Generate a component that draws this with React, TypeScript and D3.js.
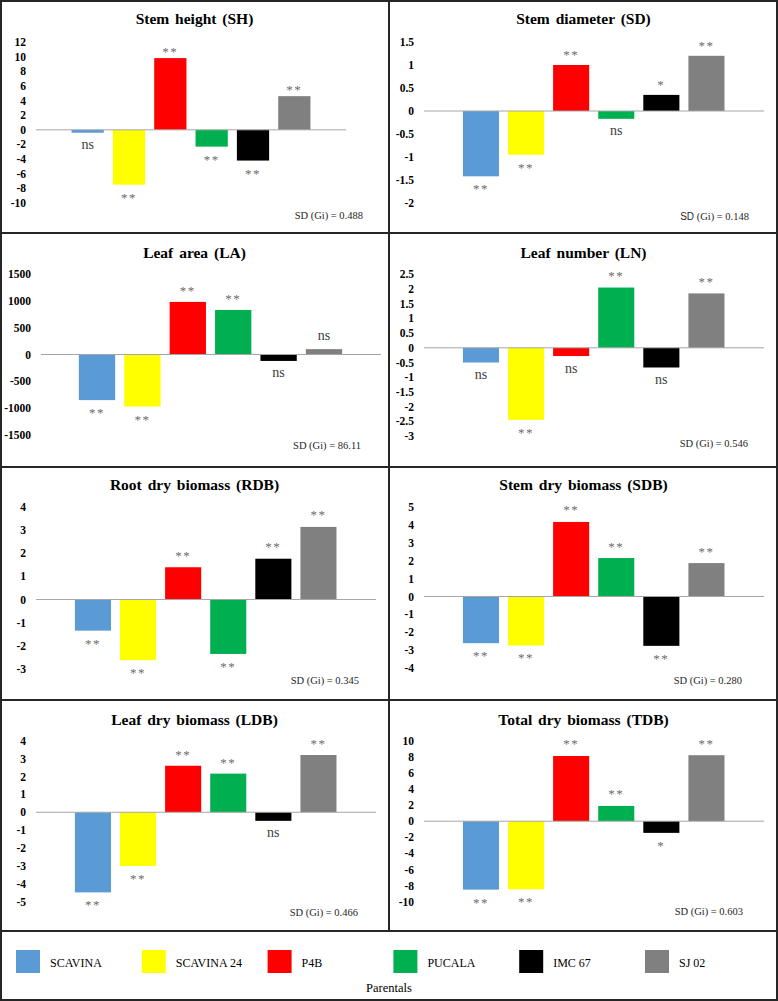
import React from "react";
import * as d3 from "d3";

const CATEGORIES = ["SCAVINA", "SCAVINA 24", "P4B", "PUCALA", "IMC 67", "SJ 02"];
const COLORS = ["#5B9BD5", "#FFFF00", "#FF0000", "#00B050", "#000000", "#808080"];

const TITLES = [
  "Stem height (SH)",
  "Stem diameter (SD)",
  "Leaf area (LA)",
  "Leaf number (LN)",
  "Root dry biomass (RDB)",
  "Stem dry biomass (SDB)",
  "Leaf dry biomass (LDB)",
  "Total dry biomass (TDB)",
];

const SH_VALUES = [-0.4, -7.5, 9.8, -2.3, -4.2, 4.6];
const SD_VALUES = [-1.42, -0.95, 1.0, -0.17, 0.35, 1.2];
const LA_VALUES = [-850, -970, 980, 830, -120, 100];
const LN_VALUES = [-0.5, -2.45, -0.28, 2.05, -0.67, 1.85];
const RDB_VALUES = [-1.35, -2.63, 1.4, -2.36, 1.77, 3.15];
const SDB_VALUES = [-2.6, -2.73, 4.15, 2.14, -2.75, 1.86];
const LDB_VALUES = [-4.48, -3.0, 2.6, 2.16, -0.48, 3.2];
const TDB_VALUES = [-8.5, -8.45, 8.1, 1.9, -1.45, 8.2];

const SH_SIG = ["ns", "**", "**", "**", "**", "**"];
const SD_SIG = ["**", "**", "**", "ns", "*", "**"];
const LA_SIG = ["**", "**", "**", "**", "ns", "ns"];
const LN_SIG = ["ns", "**", "ns", "**", "ns", "**"];
const RDB_SIG = ["**", "**", "**", "**", "**", "**"];
const SDB_SIG = ["**", "**", "**", "**", "**", "**"];
const LDB_SIG = ["**", "**", "**", "**", "ns", "**"];
const TDB_SIG = ["**", "**", "**", "**", "*", "**"];

const SH_TICKS = [12, 10, 8, 6, 4, 2, 0, -2, -4, -6, -8, -10];
const SD_TICKS = [1.5, 1, 0.5, 0, -0.5, -1, -1.5, -2];
const LA_TICKS = [1500, 1000, 500, 0, -500, -1000, -1500];
const LN_TICKS = [2.5, 2, 1.5, 1, 0.5, 0, -0.5, -1, -1.5, -2, -2.5, -3];
const RDB_TICKS = [4, 3, 2, 1, 0, -1, -2, -3];
const SDB_TICKS = [5, 4, 3, 2, 1, 0, -1, -2, -3, -4];
const LDB_TICKS = [4, 3, 2, 1, 0, -1, -2, -3, -4, -5];
const TDB_TICKS = [10, 8, 6, 4, 2, 0, -2, -4, -6, -8, -10];

const SD_GI = ["0.488", "0.148", "86.11", "0.546", "0.345", "0.280", "0.466", "0.603"];

const VALUES = [SH_VALUES, SD_VALUES, LA_VALUES, LN_VALUES, RDB_VALUES, SDB_VALUES, LDB_VALUES, TDB_VALUES];
const SIGS = [SH_SIG, SD_SIG, LA_SIG, LN_SIG, RDB_SIG, SDB_SIG, LDB_SIG, TDB_SIG];
const TICKS = [SH_TICKS, SD_TICKS, LA_TICKS, LN_TICKS, RDB_TICKS, SDB_TICKS, LDB_TICKS, TDB_TICKS];

// layout per panel (positions only)
const ROW_TOPS = [0, 233, 467, 700];
const COL_X = [0, 389];
const PANEL_W = 389;
const LAYOUT = [
  { yTop: 42, yBot: 203, bandL: 67, bandR: 315, padIn: 0.22, axisL: 36, axisR: 346, tickX: 26, gapUp: 8, sdX: 363, sdY: 218.5, titleY: 24 },
  { yTop: 42, yBot: 203, bandL: 69.4, bandR: 340, padIn: 0.2, axisL: 35, axisR: 375, tickX: 25, gapUp: 12, sdX: 360, sdY: 219.5, titleY: 24 },
  { yTop: 41, yBot: 202, bandL: 74.3, bandR: 346.7, padIn: 0.2, axisL: 41, axisR: 381, tickX: 31, gapUp: 13, sdX: 361, sdY: 215.5, titleY: 25 },
  { yTop: 41.3, yBot: 203, bandL: 69.4, bandR: 340, padIn: 0.2, axisL: 35, axisR: 375, tickX: 25, gapUp: 13.5, sdX: 359, sdY: 213.5, titleY: 25 },
  { yTop: 40.3, yBot: 201.7, bandL: 70.4, bandR: 341, padIn: 0.2, axisL: 36, axisR: 376, tickX: 26, gapUp: 13.5, sdX: 359, sdY: 217, titleY: 23 },
  { yTop: 39.7, yBot: 201.3, bandL: 69.4, bandR: 340, padIn: 0.2, axisL: 35, axisR: 375, tickX: 25, gapUp: 13.5, sdX: 353, sdY: 217, titleY: 23 },
  { yTop: 40.7, yBot: 201.7, bandL: 70.4, bandR: 341, padIn: 0.2, axisL: 36, axisR: 376, tickX: 26, gapUp: 13, sdX: 358, sdY: 216, titleY: 24.5 },
  { yTop: 40.7, yBot: 201.7, bandL: 69.4, bandR: 340, padIn: 0.2, axisL: 35, axisR: 375, tickX: 25, gapUp: 13.5, sdX: 354, sdY: 215, titleY: 24.5 },
];

const SERIF = "'Liberation Serif', 'Times New Roman', serif";
const SANS = "'Liberation Sans', Arial, sans-serif";

function Panel({ idx }: { idx: number }) {
  const L = LAYOUT[idx];
  const values = VALUES[idx];
  const sigs = SIGS[idx];
  const ticks = TICKS[idx];
  const x0 = COL_X[idx % 2];
  const y0 = ROW_TOPS[Math.floor(idx / 2)];
  const y = d3
    .scaleLinear()
    .domain([d3.min(ticks) as number, d3.max(ticks) as number])
    .range([L.yBot, L.yTop]);
  const x = d3
    .scaleBand<string>()
    .domain(CATEGORIES)
    .range([L.bandL, L.bandR])
    .paddingInner(L.padIn)
    .paddingOuter(L.padIn / 2);
  const zero = y(0);
  return (
    <g transform={`translate(${x0},${y0})`}>
      <text
        x={PANEL_W / 2}
        y={L.titleY}
        textAnchor="middle"
        fontFamily={SERIF}
        fontWeight="bold"
        fontSize={15.5}
        fill="#000"
        style={{ wordSpacing: "2px" }}
      >
        {TITLES[idx]}
      </text>
      {ticks.map((t) => (
        <text
          key={t}
          x={L.tickX}
          y={y(t)}
          dy="0.35em"
          textAnchor="end"
          fontFamily={SERIF}
          fontWeight="bold"
          fontSize={11.5}
          fill="#000"
        >
          {String(t)}
        </text>
      ))}
      {values.map((v, i) => {
        const c = CATEGORIES[i];
        const top = y(Math.max(0, v));
        const bot = y(Math.min(0, v));
        return (
          <rect
            key={c}
            x={x(c)}
            y={top}
            width={x.bandwidth()}
            height={Math.max(0, bot - top)}
            fill={COLORS[i]}
          />
        );
      })}
      <line x1={L.axisL} x2={L.axisR} y1={zero} y2={zero} stroke="#a6a6a6" strokeWidth={1} />
      {values.map((v, i) => {
        const c = CATEGORIES[i];
        const s = sigs[i];
        const isNs = s === "ns";
        const cx = (x(c) as number) + x.bandwidth() / 2;
        let center: number;
        if (v >= 0) center = y(v) - L.gapUp;
        else center = y(v) + (isNs ? 13 : 11);
        const base = center + (isNs ? 3.5 : 6);
        return (
          <text
            key={"s" + c}
            x={cx}
            y={base}
            textAnchor="middle"
            fontFamily={SERIF}
            fontSize={isNs ? 14 : 13}
            fill={isNs ? "#404040" : "#6b6b6b"}
            style={isNs ? undefined : { letterSpacing: "1.5px" }}
          >
            {s}
          </text>
        );
      })}
      <text x={L.sdX} y={L.sdY} textAnchor="end" fontFamily={SERIF} fontSize={10.5} fill="#262626">
        {idx === 1 ? (
          <>
            <tspan fontFamily={SANS} fontSize={10}>SD</tspan>
            <tspan>{` (Gi) = ${SD_GI[idx]}`}</tspan>
          </>
        ) : (
          `SD (Gi) = ${SD_GI[idx]}`
        )}
      </text>
    </g>
  );
}

export default function App() {
  const W = 778;
  const H = 1001;
  const legendTop = 931;
  const legendStep = 125.8;
  return (
    <svg
      width={W}
      height={H}
      style={{ position: "absolute", left: 0, top: 0, background: "#fff" }}
    >
      <rect x={0} y={0} width={W} height={H} fill="#fff" />
      {TITLES.map((_, i) => (
        <Panel key={i} idx={i} />
      ))}
      {/* grid borders */}
      <rect x={1} y={1} width={W - 2} height={H - 2} fill="none" stroke="#262626" strokeWidth={2} />
      {ROW_TOPS.slice(1).map((r) => (
        <line key={r} x1={0} x2={W} y1={r} y2={r} stroke="#262626" strokeWidth={2} />
      ))}
      <line x1={0} x2={W} y1={legendTop} y2={legendTop} stroke="#262626" strokeWidth={2} />
      <line x1={COL_X[1]} x2={COL_X[1]} y1={0} y2={legendTop} stroke="#262626" strokeWidth={2} />
      {/* legend */}
      {CATEGORIES.map((c, i) => (
        <g key={c} transform={`translate(${16 + i * legendStep},0)`}>
          <rect x={0} y={950} width={24} height={23} fill={COLORS[i]} />
          <text x={34} y={966.5} fontFamily={SERIF} fontSize={12} fill="#000">
            {c}
          </text>
        </g>
      ))}
      <text x={389} y={991.5} textAnchor="middle" fontFamily={SERIF} fontSize={12.5} fill="#000">
        Parentals
      </text>
    </svg>
  );
}
